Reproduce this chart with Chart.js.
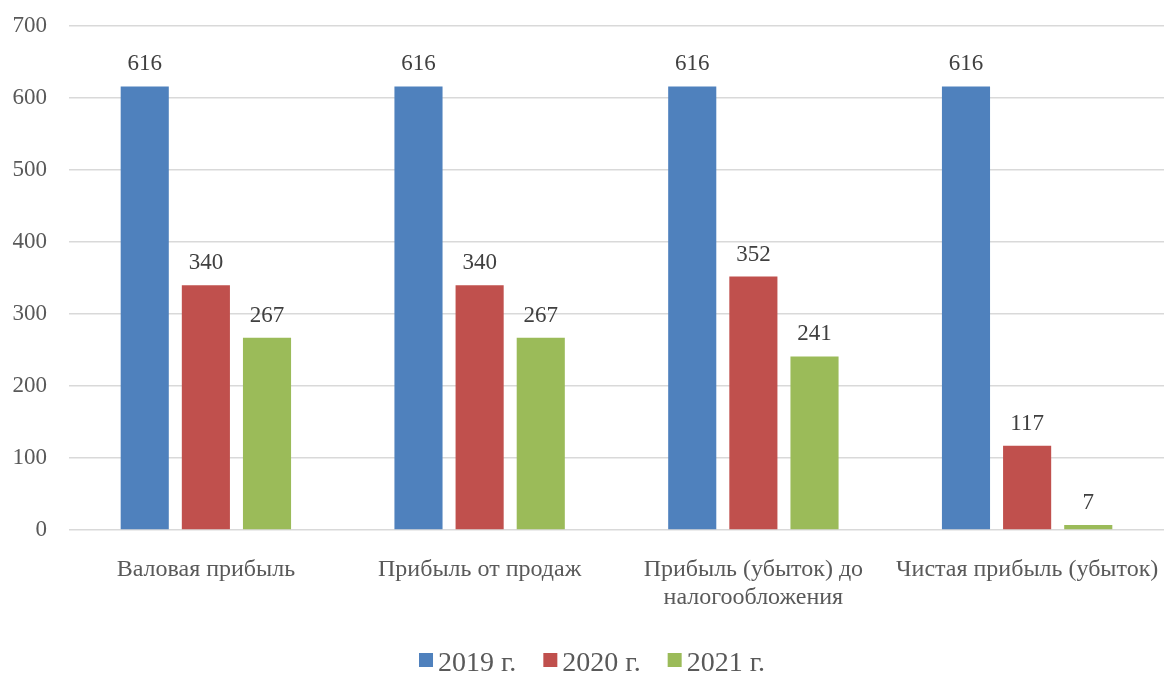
<!DOCTYPE html>
<html>
<head>
<meta charset="utf-8">
<script src="https://cdn.jsdelivr.net/npm/chart.js@4/dist/chart.umd.min.js"></script>
<style>
  html, body { margin: 0; padding: 0; background: #ffffff; }
  #wrap { width: 1164px; height: 673px; position: relative; }
</style>
</head>
<body>
<div id="wrap"><canvas id="c" width="1164" height="673"></canvas></div>
<script>
// Profit indicators by year
const categories = [
  'Валовая прибыль',
  'Прибыль от продаж',
  ['Прибыль (убыток) до', 'налогообложения'],
  'Чистая прибыль (убыток)'
];
const seriesNames = ['2019 г.', '2020 г.', '2021 г.'];
const values2019 = [616, 616, 616, 616];
const values2020 = [340, 340, 352, 117];
const values2021 = [267, 267, 241, 7];
const yTicks = [0, 100, 200, 300, 400, 500, 600, 700];

const colors = ['#4f81bd', '#c0504d', '#9bbb59'];
const FONT = "'Liberation Serif', 'Times New Roman', serif";

// Value labels above each bar
const valueLabels = {
  id: 'valueLabels',
  afterDatasetsDraw(chart) {
    const ctx = chart.ctx;
    ctx.save();
    ctx.font = '23px ' + FONT;
    ctx.fillStyle = '#404040';
    ctx.textAlign = 'center';
    ctx.textBaseline = 'alphabetic';
    chart.data.datasets.forEach((ds, i) => {
      chart.getDatasetMeta(i).data.forEach((el, j) => {
        ctx.fillText(String(ds.data[j]), el.x, el.y - 16);
      });
    });
    ctx.restore();
  }
};

// Legend row under the chart
const bottomLegend = {
  id: 'bottomLegend',
  afterDraw(chart) {
    const ctx = chart.ctx;
    ctx.save();
    ctx.font = '28px ' + FONT;
    ctx.textBaseline = 'alphabetic';
    const box = 14, gapBox = 5, gapItem = 27;
    const items = chart.data.datasets.map(ds => ({
      label: ds.label, color: ds.backgroundColor, w: ctx.measureText(ds.label).width
    }));
    const total = items.reduce((s, it) => s + box + gapBox + it.w, 0) + gapItem * (items.length - 1);
    let x = 592 - total / 2;
    const baseline = 671;
    items.forEach(it => {
      ctx.fillStyle = it.color;
      ctx.fillRect(x, 653, box, box);
      ctx.fillStyle = '#595959';
      ctx.fillText(it.label, x + box + gapBox, baseline);
      x += box + gapBox + it.w + gapItem;
    });
    ctx.restore();
  }
};

new Chart(document.getElementById('c'), {
  type: 'bar',
  data: {
    labels: categories,
    datasets: [
      { label: seriesNames[0], data: values2019, backgroundColor: colors[0] },
      { label: seriesNames[1], data: values2020, backgroundColor: colors[1] },
      { label: seriesNames[2], data: values2021, backgroundColor: colors[2] }
    ]
  },
  options: {
    responsive: false,
    animation: false,
    events: [],
    layout: { padding: { top: 26, right: -2, left: 0, bottom: 53 } },
    datasets: {
      bar: { categoryPercentage: 0.67, barPercentage: 0.787, borderWidth: 0 }
    },
    plugins: {
      legend: { display: false },
      tooltip: { enabled: false }
    },
    scales: {
      x: {
        grid: { display: false, drawTicks: false },
        border: { display: false },
        ticks: {
          color: '#595959',
          font: { family: FONT, size: 24, lineHeight: 1.17 },
          padding: 26,
          maxRotation: 0,
          autoSkip: false
        },
        afterFit(scale) {
          scale.height = 90;
          scale.paddingLeft = 0;
          scale.paddingRight = 0;
        }
      },
      y: {
        min: 0,
        max: 700,
        afterBuildTicks(scale) { scale.ticks = yTicks.map(v => ({ value: v })); },
        grid: { color: '#d9d9d9', lineWidth: 1.5, drawTicks: false },
        border: { display: false },
        ticks: {
          color: '#595959',
          font: { family: FONT, size: 23 },
          padding: 22
        },
        afterFit(scale) {
          scale.width = 69;
          scale.paddingTop = 0;
          scale.paddingBottom = 0;
        }
      }
    }
  },
  plugins: [valueLabels, bottomLegend]
});
</script>
</body>
</html>
